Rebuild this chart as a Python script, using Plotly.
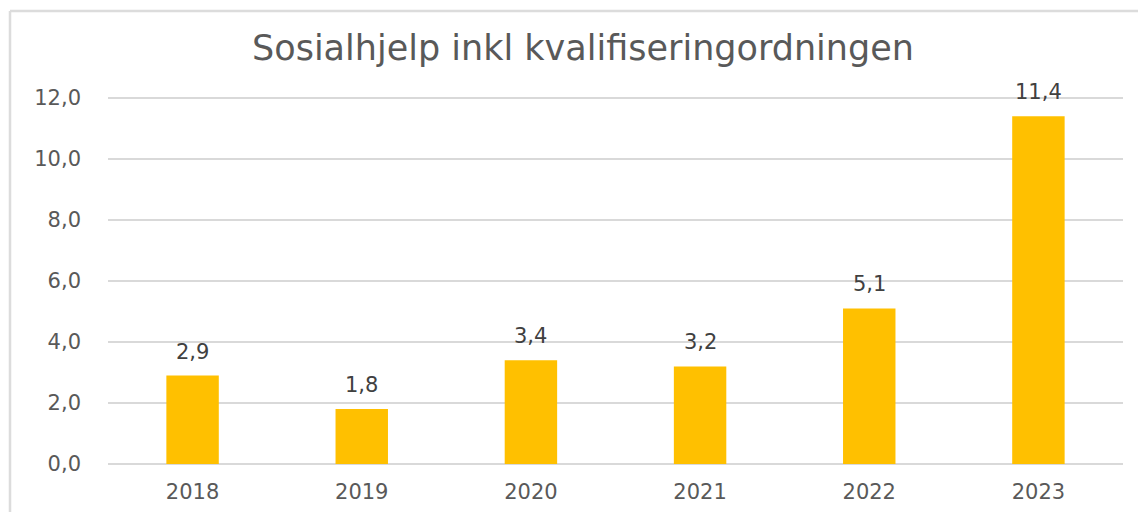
import plotly.graph_objects as go

years = ["2018", "2019", "2020", "2021", "2022", "2023"]
values = [2.9, 1.8, 3.4, 3.2, 5.1, 11.4]
y_ticks = [0, 2, 4, 6, 8, 10, 12]
y_tick_labels = ["0,0", "2,0", "4,0", "6,0", "8,0", "10,0", "12,0"]
title_text = "Sosialhjelp inkl kvalifiseringordningen"

labels = [f"{v:.1f}".replace(".", ",") for v in values]

FONT = "DejaVu Sans"

fig = go.Figure()
fig.add_trace(go.Bar(x=years, y=values, marker=dict(color="#FFC000", line=dict(width=0)),
                     hoverinfo="skip"))

for i, (v, lab) in enumerate(zip(values, labels)):
    fig.add_annotation(x=i, y=v, text=lab, showarrow=False, yanchor="bottom", yshift=10,
                       font=dict(family=FONT, size=21, color="#404040"))

# chart-area border: left and top edges visible in the reference
x_left = (2 - 100) / 1015
y_top = (456 - 3) / 369
fig.add_shape(type="line", xref="paper", yref="paper", x0=x_left, x1=x_left, y0=-0.3, y1=y_top,
              line=dict(color="#DCDCDC", width=2.5), layer="below")
fig.add_shape(type="line", xref="paper", yref="paper", x0=x_left, x1=1.1, y0=y_top, y1=y_top,
              line=dict(color="#DCDCDC", width=2.5), layer="below")

# page body adds ~8px offset; figure sized to fit inside the window
fig.update_layout(
    width=1138, height=504,
    margin=dict(l=100, r=23, t=87, b=48, pad=0),
    paper_bgcolor="white", plot_bgcolor="white",
    bargap=0.69,
    showlegend=False,
    title=dict(text=title_text, x=575 / 1138, xanchor="center", y=1 - 40 / 504, yanchor="middle",
               font=dict(family=FONT, size=35, color="#595959")),
    xaxis=dict(type="category", range=[-0.5, 5.5], tickfont=dict(family=FONT, size=21, color="#595959"),
               showgrid=False, showline=False, ticks="", ticklabelstandoff=13, fixedrange=True,
               automargin=False),
    yaxis=dict(range=[0, 12.1], tickvals=y_ticks, ticktext=y_tick_labels,
               tickfont=dict(family=FONT, size=21, color="#595959"),
               showgrid=True, gridcolor="#D9D9D9", gridwidth=1.5,
               zeroline=True, zerolinecolor="#D9D9D9", zerolinewidth=1.5,
               showline=False, ticks="", ticklabelstandoff=26, fixedrange=True,
               automargin=False),
)

fig.write_html("out.html")
